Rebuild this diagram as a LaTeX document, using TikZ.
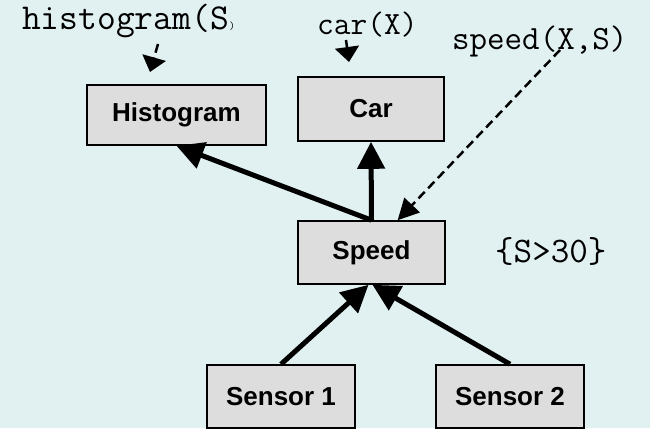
\documentclass[tikz,border=0pt]{standalone}
\usepackage{fontspec}
\setmainfont{Liberation Sans}
\usetikzlibrary{arrows.meta}
\definecolor{bgc}{HTML}{E1F0F0}
\definecolor{boxgray}{HTML}{DDDDDD}
\begin{document}
\begin{tikzpicture}[x=1pt,y=-1pt,
  box/.style={draw=black, line width=1.6pt, fill=boxgray, inner sep=0pt,
    font=\bfseries\fontsize{26}{30}\selectfont},
  lbl/.style={anchor=base west, inner sep=0pt, font=\ttfamily\fontsize{34}{38}\selectfont},
  flow/.style={line width=5pt, -{Triangle[length=27pt,width=27pt]}},
  ref/.style={line width=2.5pt, dash pattern=on 9pt off 5pt, -{Triangle[length=21pt,width=21pt]}},
  refs/.style={line width=2.5pt, dash pattern=on 9pt off 5pt, -{Triangle[length=15pt,width=24pt]}}]
\fill[bgc] (0,0) rectangle (650,428);
\useasboundingbox (0,0) rectangle (650,428);

\node[box, minimum width=179pt, minimum height=60pt] (hist) at (176.5,115) {Histogram};
\node[box, minimum width=146pt, minimum height=64pt] (car) at (371,109) {Car};
\node[box, minimum width=147pt, minimum height=63pt] (speed) at (371.5,252.5) {Speed};
\node[box, minimum width=148pt, minimum height=63pt] (s1) at (281,396.5) {Sensor 1};
\node[box, minimum width=148pt, minimum height=63pt] (s2) at (510,396.5) {Sensor 2};

\node[lbl, font=\ttfamily\fontsize{36.5}{40}\selectfont] (hl) at (22,30) {histogram(S};
\node[anchor=base west, inner sep=0pt, font=\ttfamily\fontsize{11}{12}\selectfont] (hlp) at (hl.base east) {)};
\node[lbl, font=\ttfamily\fontsize{32.5}{36}\selectfont] (cl) at (317,35) {car(X)};
\node[lbl] (sl) at (452,50) {speed(X,S)};
\node[lbl, font=\ttfamily\fontsize{36}{40}\selectfont] (cond) at (495,262) {\{S>30\}};

\coordinate (ha) at (158,44);
\coordinate (hb) at (150,72);
\coordinate (ca) at (346,40);
\coordinate (cb) at (349,62);
\coordinate (sa) at (560,50);

\draw[refs] (ha) -- (hb);
\draw[refs] (ca) -- (cb);
\draw[ref] (sa) -- (speed.51);

\draw[flow] (speed.north) -- (hist.south);
\draw[flow] (speed.north) -- (car.south);
\draw[flow] (s1.north) -- ([xshift=-3pt]speed.south);
\draw[flow] (s2.north) -- ([xshift=1pt]speed.south);
\end{tikzpicture}
\end{document}
